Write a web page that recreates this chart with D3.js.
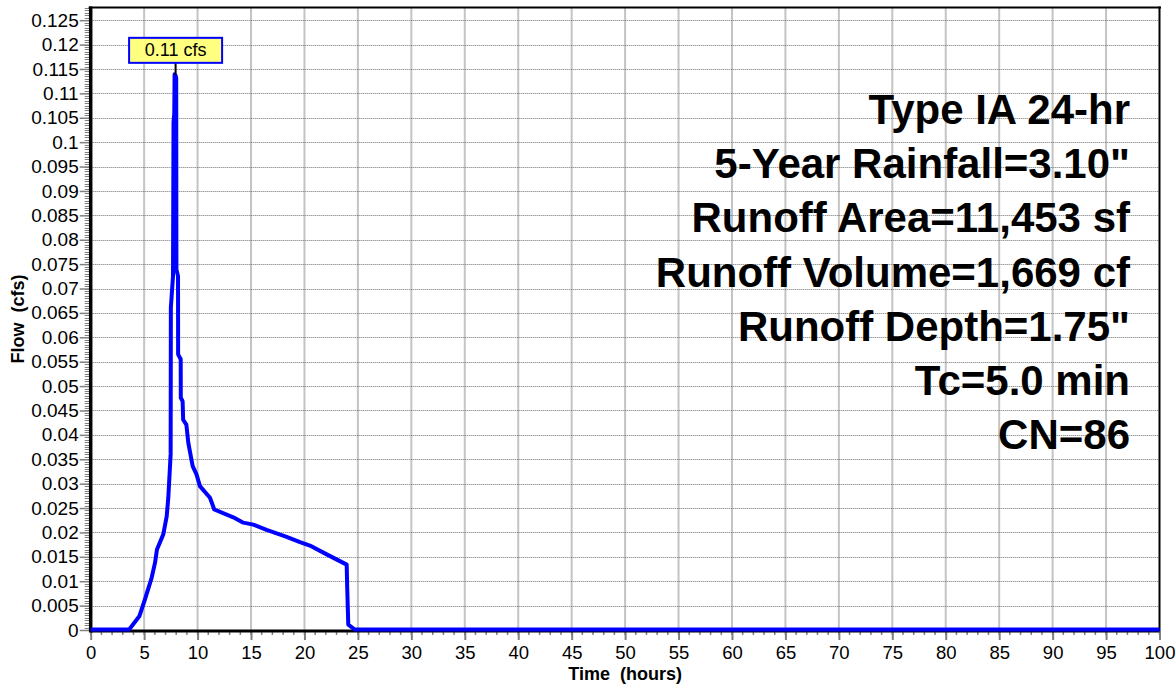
<!DOCTYPE html>
<html>
<head>
<meta charset="utf-8">
<script src="https://cdn.jsdelivr.net/npm/d3@7"></script>
<style>
  html, body { margin: 0; padding: 0; background: #ffffff; }
  svg { display: block; font-family: "Liberation Sans", Arial, sans-serif; }
  text { white-space: pre; }
</style>
</head>
<body>
<svg id="chart" width="1176" height="685"></svg>
<script>
// ---------------- data ----------------
const timeHours = [0, 3.6, 4.55, 5.08, 5.7, 6.02, 6.2, 6.79, 7.11, 7.26, 7.42, 7.48, 7.5, 7.7, 7.75, 7.82, 7.85, 7.95, 8.0, 8.02, 8.17, 8.18, 8.42, 8.43, 8.6, 8.65, 8.95, 9.13, 9.54, 9.9, 10.22, 11.16, 11.56, 13.34, 14.28, 15.21, 16.46, 18.33, 19.58, 20.51, 22.08, 23.95, 24.0, 24.1, 24.7, 100];
const flowCfs   = [0, 0, 0.0027, 0.0062, 0.0106, 0.0137, 0.0164, 0.0195, 0.0232, 0.027, 0.0335, 0.036, 0.066, 0.0724, 0.104, 0.1058, 0.1138, 0.1135, 0.113, 0.0738, 0.0724, 0.0564, 0.0554, 0.0475, 0.0468, 0.043, 0.042, 0.0383, 0.0335, 0.0318, 0.0294, 0.027, 0.0246, 0.023, 0.0219, 0.0215, 0.0204, 0.019, 0.0179, 0.0172, 0.0154, 0.0133, 0.0085, 0.001, 0, 0];

const xTickLabels = ["0","5","10","15","20","25","30","35","40","45","50","55","60","65","70","75","80","85","90","95","100"];
const yTickLabels = ["0","0.005","0.01","0.015","0.02","0.025","0.03","0.035","0.04","0.045","0.05","0.055","0.06","0.065","0.07","0.075","0.08","0.085","0.09","0.095","0.1","0.105","0.11","0.115","0.12","0.125"];

const infoLines = ["Type IA 24-hr", "5-Year Rainfall=3.10\"", "Runoff Area=11,453 sf", "Runoff Volume=1,669 cf", "Runoff Depth=1.75\"", "Tc=5.0 min", "CN=86"];
const peakLabel = "0.11 cfs";
const xTitle = "Time  (hours)";
const yTitle = "Flow  (cfs)";

// ---------------- layout ----------------
const svg = d3.select("#chart");
const pLeft = 90.7, pRight = 1159.5, pTop = 8, pBottom = 630;
const x = d3.scaleLinear().domain([0, 100]).range([pLeft, pRight]);
const y = d3.scaleLinear().domain([0, 0.1275]).range([pBottom, pTop]);

svg.append("rect").attr("width", 1176).attr("height", 685).attr("fill", "#fff");

const xMajor = xTickLabels.map(Number);
const yMajor = yTickLabels.map(Number);

// vertical grid
svg.append("g").selectAll("line").data(xMajor.filter(d => d > 0 && d < 100)).join("line")
  .attr("x1", d => x(d)).attr("x2", d => x(d))
  .attr("y1", pTop).attr("y2", pBottom)
  .attr("stroke", "#c4c4c4").attr("stroke-width", 2);

// horizontal grid (dotted)
svg.append("g").selectAll("line").data(yMajor.filter(d => d > 0)).join("line")
  .attr("x1", pLeft).attr("x2", pRight)
  .attr("y1", d => Math.round(y(d)) + 0.5).attr("y2", d => Math.round(y(d)) + 0.5)
  .attr("stroke", "#707070").attr("stroke-width", 1).attr("stroke-dasharray", "1,1");

// minor ticks
const yMinor = d3.range(0, 0.12751, 0.0005);
svg.append("g").selectAll("line").data(yMinor).join("line")
  .attr("x1", pLeft - 6).attr("x2", pLeft)
  .attr("y1", d => Math.round(y(d)) + 0.5).attr("y2", d => Math.round(y(d)) + 0.5)
  .attr("stroke", "#808080").attr("stroke-width", 1);
const xMinor = d3.range(0, 101, 1);
svg.append("g").selectAll("line").data(xMinor).join("line")
  .attr("x1", d => x(d)).attr("x2", d => x(d))
  .attr("y1", pBottom).attr("y2", pBottom + 5)
  .attr("stroke", "#808080").attr("stroke-width", 1.5);

// axes via d3 axis generators
const yAxis = d3.axisLeft(y).tickValues(yMajor).tickFormat((d, i) => yTickLabels[i]).tickSize(11).tickPadding(1);
const gy = svg.append("g").attr("transform", `translate(${pLeft},0)`).call(yAxis);
gy.select(".domain").remove();
gy.selectAll(".tick line").attr("stroke", "#808080").attr("stroke-width", 1.5);
gy.selectAll(".tick text").attr("font-size", 19).attr("fill", "#000")
  .attr("font-family", "'Liberation Sans', Arial, sans-serif");

const xAxis = d3.axisBottom(x).tickValues(xMajor).tickFormat((d, i) => xTickLabels[i]).tickSize(9).tickPadding(6);
const gx = svg.append("g").attr("transform", `translate(0,${pBottom + 1})`).call(xAxis);
gx.select(".domain").remove();
gx.selectAll(".tick line").attr("stroke", "#808080").attr("stroke-width", 2);
gx.selectAll(".tick text").attr("font-size", 18.5).attr("fill", "#000")
  .attr("font-family", "'Liberation Sans', Arial, sans-serif");

// frame
svg.append("line").attr("x1", pLeft - 2).attr("x2", pRight + 1.5).attr("y1", pTop - 0.5).attr("y2", pTop - 0.5)
  .attr("stroke", "#000").attr("stroke-width", 2);
svg.append("line").attr("x1", pRight).attr("x2", pRight).attr("y1", pTop - 1.5).attr("y2", pBottom + 1)
  .attr("stroke", "#000").attr("stroke-width", 2);
svg.append("line").attr("x1", pLeft).attr("x2", pLeft).attr("y1", pTop - 1.5).attr("y2", pBottom + 2.5)
  .attr("stroke", "#000").attr("stroke-width", 3.5);
svg.append("line").attr("x1", pLeft).attr("x2", pRight).attr("y1", pBottom + 1).attr("y2", pBottom + 1)
  .attr("stroke", "#000").attr("stroke-width", 3);

// info text
const infoG = svg.append("g");
infoLines.forEach((t, i) => {
  infoG.append("text").attr("x", 1130).attr("y", 124 + i * 54.2)
    .attr("text-anchor", "end").attr("font-size", 42).attr("font-weight", "bold")
    .attr("fill", "#000").text(t);
});

// hydrograph
const series = timeHours.map((t, i) => [t, flowCfs[i]]);
const line = d3.line().x(d => x(d[0])).y(d => y(d[1]) - 0.5);
svg.append("path").datum(series).attr("d", line)
  .attr("fill", "none").attr("stroke", "#0000ff").attr("stroke-width", 4)
  .attr("stroke-linejoin", "round").attr("stroke-linecap", "butt");

// peak label
const peakIdx = d3.maxIndex(flowCfs);
const px = x(timeHours[peakIdx]) + 1, py = y(flowCfs[peakIdx]);
const boxW = 93, boxH = 25, boxBottom = py - 12;
svg.append("line").attr("x1", px).attr("x2", px).attr("y1", boxBottom).attr("y2", py)
  .attr("stroke", "#000").attr("stroke-width", 2);
svg.append("rect").attr("x", px - boxW / 2).attr("y", boxBottom - boxH)
  .attr("width", boxW).attr("height", boxH)
  .attr("fill", "#ffff80").attr("stroke", "#0000ff").attr("stroke-width", 2);
svg.append("text").attr("x", px).attr("y", boxBottom - 6.5).attr("text-anchor", "middle")
  .attr("font-size", 18).attr("fill", "#000").text(peakLabel);

// axis titles
svg.append("text").attr("x", (pLeft + pRight) / 2).attr("y", 680).attr("text-anchor", "middle")
  .attr("font-size", 18).attr("font-weight", "bold").text(xTitle);
svg.append("text").attr("transform", `translate(24,${(pTop + pBottom) / 2}) rotate(-90)`)
  .attr("text-anchor", "middle").attr("font-size", 18).attr("font-weight", "bold").text(yTitle);
</script>
</body>
</html>
